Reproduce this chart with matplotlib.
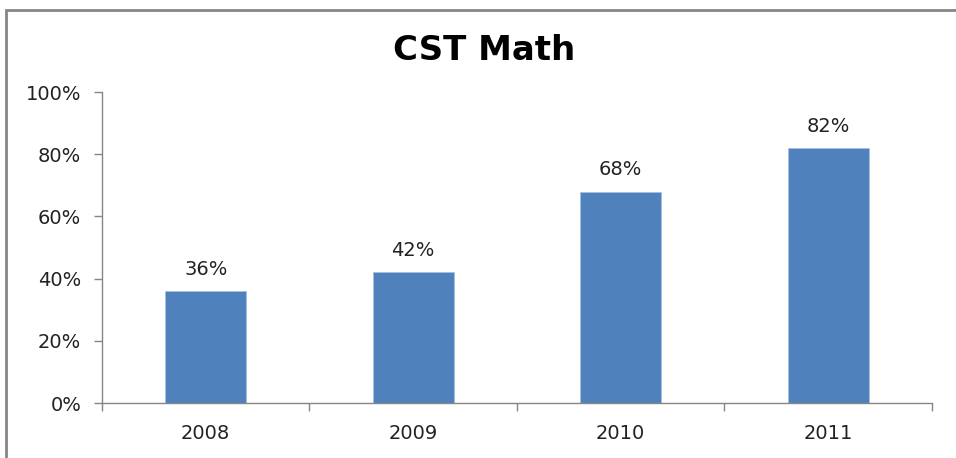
import matplotlib.pyplot as plt
from matplotlib.patches import Rectangle
from matplotlib.ticker import FixedLocator, PercentFormatter

plt.rcParams["font.family"] = ["DejaVu Sans"]

years = ["2008", "2009", "2010", "2011"]
scores = [36, 42, 68, 82]
bar_color = "#4F81BD"
axis_gray = "#868686"

fig = plt.figure(figsize=(9.56, 4.58), dpi=100)
ax = fig.add_axes([0.1067, 0.120, 0.868, 0.679])

# outer chart border (only top and left visible in the crop)
fig.patches.append(Rectangle((6 / 956, -0.1), 1.2, 1.1 - 10 / 458, transform=fig.transFigure,
                             fill=False, edgecolor=axis_gray, linewidth=2))

x = range(len(years))
bars = ax.bar(x, scores, width=0.39, color=bar_color, edgecolor="#A7C0DE", linewidth=0.6)
for xi, v in zip(x, scores):
    ax.annotate(f"{v}%", (xi, v), xytext=(0, 9), textcoords="offset points",
                ha="center", va="bottom", fontsize=14, color="#222222")

ax.set_xlim(-0.5, len(years) - 0.5)
ax.set_ylim(0, 100)
ax.set_yticks(range(0, 101, 20))
ax.yaxis.set_major_formatter(PercentFormatter(decimals=0))
ax.set_xticks(list(x))
ax.set_xticklabels(years)
ax.xaxis.set_minor_locator(FixedLocator([i - 0.5 for i in range(len(years) + 1)]))
ax.tick_params(axis="x", which="major", length=0, pad=15, labelsize=14, labelcolor="#222222")
ax.tick_params(axis="x", which="minor", length=6, color=axis_gray, width=1)
ax.tick_params(axis="y", length=6, color=axis_gray, width=1, pad=9, labelsize=14, labelcolor="#222222")

for side in ["top", "right"]:
    ax.spines[side].set_visible(False)
for side in ["left", "bottom"]:
    ax.spines[side].set_color(axis_gray)
    ax.spines[side].set_linewidth(1)

fig.text(0.506, 0.889, "CST Math", ha="center", va="center", fontsize=24.5, fontweight="bold")

plt.savefig("out.png", dpi=100)
plt.close()
